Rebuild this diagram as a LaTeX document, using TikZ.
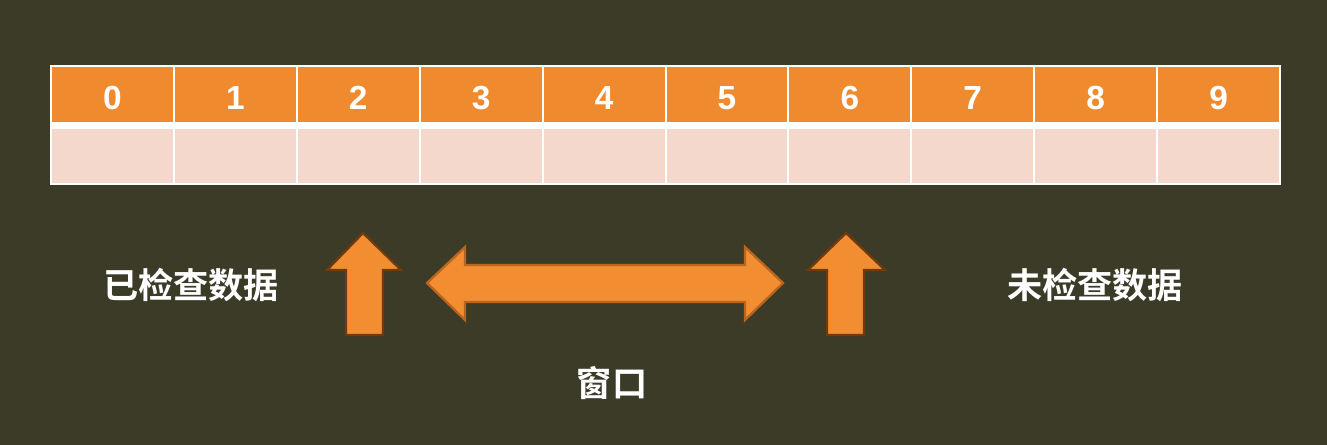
\documentclass[tikz,border=0pt]{standalone}
\usepackage{fontspec}
\setmainfont{Liberation Sans}
\newfontfamily\cjk{Noto Sans CJK SC}[BoldFont={Noto Sans CJK SC Bold}]
\usepackage{xcolor}
\definecolor{board}{HTML}{3C3B28}
\definecolor{headorange}{HTML}{F08A2E}
\definecolor{cellpink}{HTML}{F5D8CC}
\definecolor{arroworange}{HTML}{F28D32}
\definecolor{arrowedge}{HTML}{6E3A0E}
\definecolor{arrowedgelight}{HTML}{B9661C}
\usetikzlibrary{positioning}

\begin{document}
\begin{tikzpicture}[x=0.02cm,y=-0.02cm,
  headcell/.style={fill=headorange,minimum width=2.418cm,
    minimum height=1.10cm,inner sep=0pt},
  digit/.style={text=white,inner sep=0pt,font=\fontsize{19}{19}\selectfont\bfseries},
  bodycell/.style={fill=cellpink,minimum width=2.418cm,minimum height=1.08cm,inner sep=0pt},
  label/.style={text=white,font=\cjk\bfseries\fontsize{20}{20}\selectfont,inner sep=0pt},
  blockarrow/.style={fill=arroworange,draw=arrowedge,line width=1.3pt,line join=miter}]
  % --- Fond ---
  \fill[board] (0,0) rectangle (1327,445);
  \useasboundingbox (0,0) rectangle (1327,445);

  % --- Tableau (cadre blanc puis cases) ---
  \fill[white] (50,65) rectangle (1281,185);
  \foreach \i in {0,...,9} {
    \node[headcell] (h\i) at (112.45+122.9*\i,94.5) {};
    \node[digit] (d\i) at (112.45+122.9*\i,98) {\i};
    \node[bodycell] (b\i) at (112.45+122.9*\i,156) {};
  }

  % --- Fleches verticales ---
  \draw[blockarrow] (363,233) -- (401,270) -- (383,270) -- (383,335)
    -- (346,335) -- (346,270) -- (327,270) -- cycle;
  \draw[blockarrow] (846,233) -- (885,270) -- (864,270) -- (864,335)
    -- (827,335) -- (827,270) -- (808,270) -- cycle;

  % --- Fleche double (fenetre) ---
  \draw[blockarrow,draw=arrowedgelight] (427,283) -- (465,247) -- (465,265) -- (745,265)
    -- (745,247) -- (783,283) -- (745,320) -- (745,302) -- (465,302) -- (465,320) -- cycle;

  % --- Textes ---
  \node[label] (checked) at (191,285) {已检查数据};
  \node[label] (unchecked) at (1095,285) {未检查数据};
  \node[label] (window) at (612,383) {窗口};
\end{tikzpicture}
\end{document}
